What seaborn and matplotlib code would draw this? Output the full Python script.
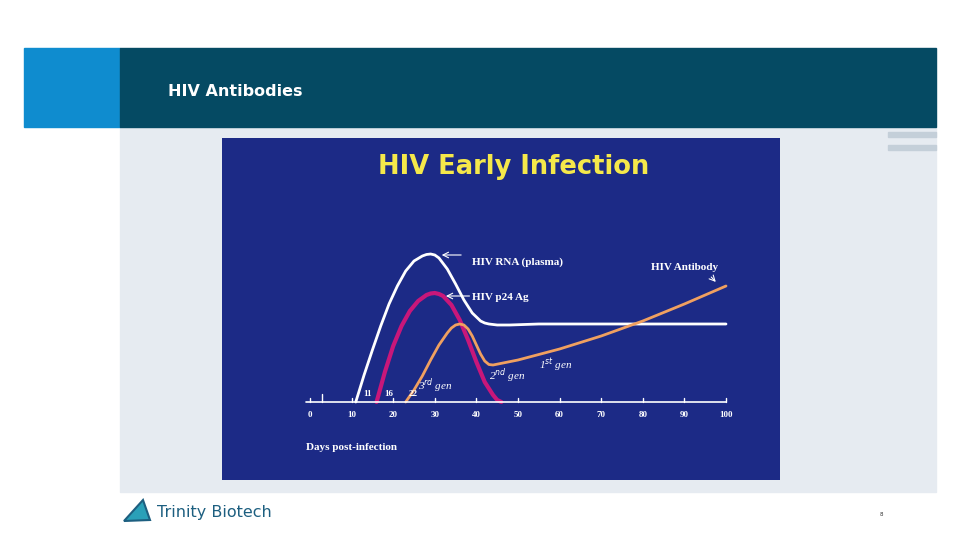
import matplotlib
matplotlib.use("Agg")
import matplotlib.pyplot as plt
import seaborn as sns
import numpy as np
from matplotlib.patches import Rectangle, Polygon

# curve values (height above baseline, in px-ish units)
rna_x = [11, 13, 15, 17, 19, 21, 23, 25, 27, 28, 29, 30, 31, 33, 35, 37, 39, 41, 42, 43, 45, 48, 55, 100]
rna_y = [0, 27, 52, 76, 98, 116, 131, 141, 146, 147.5, 148, 147, 144, 133, 118, 102, 89, 81, 79, 78, 77, 77, 78, 78]
p24_x = [16, 18, 20, 22, 24, 26, 28, 29, 30, 31, 32, 34, 36, 38, 40, 42, 44, 45, 46]
p24_y = [0, 30, 56, 76, 91, 101, 107, 108.5, 109, 108, 106, 97, 82, 62, 40, 20, 7, 2, 0]
ab_x = [23, 25, 27, 29, 31, 33, 34, 35, 36, 37, 38, 39, 40, 41, 42, 43, 44, 50, 60, 70, 80, 90, 100]
ab_y = [0, 12, 26, 42, 57, 69, 74, 77, 78, 77, 73, 66, 57, 48, 41, 37.5, 37, 42, 53, 66, 81, 98, 116]
ticks = list(range(0, 101, 10))
day_marks = [11, 16, 22]

sns.set_style("white")
plt.rcParams['font.family'] = ['Liberation Serif', 'DejaVu Serif']
fig = plt.figure(figsize=(9.6, 5.4), dpi=100)
W, H = 960, 540

def frect(x0, y0, x1, y1, color):
    fig.patches.append(Rectangle((x0 / W, 1 - y1 / H), (x1 - x0) / W, (y1 - y0) / H,
                                 transform=fig.transFigure, color=color, zorder=-5))

frect(120, 127, 936, 492, '#e6ebf1')
frect(24, 48, 120, 127, '#0f8ccf')
frect(120, 48, 936, 127, '#054a63')
frect(888, 132, 936, 137, '#c4cfd9')
frect(888, 145, 936, 150, '#c4cfd9')
fig.text(168 / W, 1 - 91 / H, 'HIV Antibodies', color='white', fontsize=11.5,
         fontweight='bold', family='DejaVu Sans', va='center')
fig.text(157 / W, 1 - 512 / H, 'Trinity Biotech', color='#1d5f80', fontsize=11.5,
         family='DejaVu Sans', va='center')
fig.patches.append(Polygon([(124 / W, 1 - 521 / H), (150 / W, 1 - 520 / H), (143 / W, 1 - 500 / H)],
                           closed=True, transform=fig.transFigure, fc='#2aa0b8', ec='#1d5f80', lw=1.5))
fig.text(880 / W, 1 - 515 / H, '8', color='#333333', fontsize=4, family='DejaVu Sans', va='center')

# chart image area
ax = fig.add_axes([222 / W, 1 - 480 / H, 558 / W, 342 / H])
ax.set_zorder(5)
ax.set_facecolor('#1c2a86')
ax.set_xlim((222 - 310) / 4.16, (780 - 310) / 4.16)
ax.set_ylim(-78, 264)
for s in ax.spines.values():
    s.set_visible(False)
ax.set_xticks([]); ax.set_yticks([])

sns.lineplot(x=rna_x, y=rna_y, ax=ax, color='white', lw=2)
sns.lineplot(x=p24_x, y=p24_y, ax=ax, color='#c8177a', lw=3)
sns.lineplot(x=ab_x, y=ab_y, ax=ax, color='#f0a060', lw=2)

ax.plot([-1, 100], [0, 0], color='white', lw=1.2)
for t in ticks:
    ax.plot([t, t], [0, 4], color='white', lw=1)
    ax.text(t, -13, str(t), color='white', fontsize=6.5, fontweight='bold', ha='center', va='center')
ax.plot([3, 3], [0, 8], color='white', lw=1)
for d in day_marks:
    ax.text(d + 2.8, 4, str(d), color='white', fontsize=6.5, fontweight='bold', ha='center', va='bottom')

ax.text(49, 235, 'HIV Early Infection', color='#f5e84a', fontsize=18.5, fontweight='heavy',
        family='DejaVu Sans', ha='center', va='center')
ax.text(-1, -46, 'Days post-infection', color='white', fontsize=8, fontweight='bold', va='center')
ax.text(39, 140, 'HIV RNA (plasma)', color='white', fontsize=8, fontweight='bold', va='center')
ax.annotate('', xy=(31, 147), xytext=(37, 147),
            arrowprops=dict(arrowstyle='->', color='white', lw=0.8))
ax.text(39, 104, 'HIV p24 Ag', color='white', fontsize=8, fontweight='bold', va='center')
ax.annotate('', xy=(32, 106), xytext=(39, 106),
            arrowprops=dict(arrowstyle='->', color='white', lw=0.8))
ax.text(82, 134, 'HIV Antibody', color='white', fontsize=8, fontweight='bold', va='center')
ax.annotate('', xy=(98, 118), xytext=(96, 127),
            arrowprops=dict(arrowstyle='->', color='white', lw=0.8))
ax.text(55, 37, r'1$^{st}$ gen', color='white', fontsize=8, style='italic', va='center')
ax.text(43, 26, r'2$^{nd}$ gen', color='white', fontsize=8, style='italic', va='center')
ax.text(26, 16, r'3$^{rd}$ gen', color='white', fontsize=8, style='italic', va='center')

fig.savefig('out.png', dpi=100, facecolor='white')
